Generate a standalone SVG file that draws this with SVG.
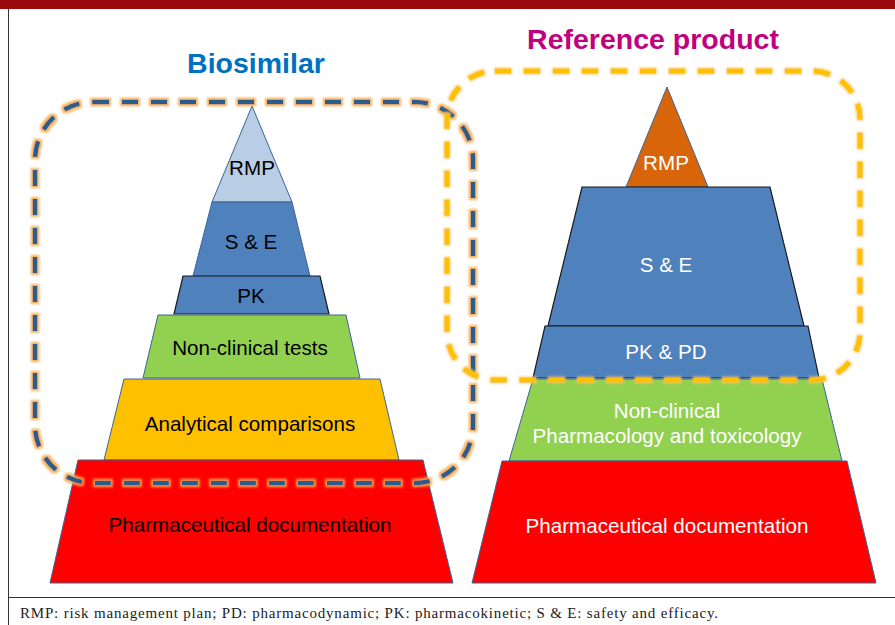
<svg xmlns="http://www.w3.org/2000/svg" width="895" height="625" viewBox="0 0 895 625">
  <defs>
    <style>
      .lbl { font-family: "Liberation Sans", Arial, sans-serif; font-size: 20.6px; text-anchor: middle; }
      .dark { fill: #000000; }
      .light { fill: #ffffff; }
      .edge { stroke: #3a6596; stroke-width: 1; }
      .edge-k { stroke: #1a1a1a; stroke-width: 1.2; }
      .title { font-family: "Liberation Sans", Arial, sans-serif; font-weight: bold; font-size: 28.5px; text-anchor: middle; }
      .box-blue { fill: none; stroke: #2c5c8c; stroke-width: 4.5; stroke-dasharray: 16 13; }
      .box-gold { fill: none; stroke: #ffc000; stroke-width: 5; stroke-dasharray: 16 13; }
    </style>
    <filter id="glowOrange" x="-10%" y="-10%" width="120%" height="120%">
      <feMorphology in="SourceAlpha" operator="dilate" radius="1.6" result="d"/>
      <feFlood flood-color="#f6a84a" flood-opacity="0.9"/>
      <feComposite in2="d" operator="in" result="c"/>
      <feGaussianBlur in="c" stdDeviation="1.3" result="g"/>
      <feMerge><feMergeNode in="g"/><feMergeNode in="SourceGraphic"/></feMerge>
    </filter>
    <filter id="glowGold" x="-10%" y="-10%" width="120%" height="120%">
      <feMorphology in="SourceAlpha" operator="dilate" radius="1.4" result="d"/>
      <feFlood flood-color="#f8c56a" flood-opacity="0.8"/>
      <feComposite in2="d" operator="in" result="c"/>
      <feGaussianBlur in="c" stdDeviation="1.3" result="g"/>
      <feMerge><feMergeNode in="g"/><feMergeNode in="SourceGraphic"/></feMerge>
    </filter>
  </defs>

  <!-- page frame -->
  <rect x="0" y="0" width="895" height="625" fill="#ffffff"/>
  <rect x="0" y="0" width="895" height="9" fill="#9b0a10"/>
  <line x1="8.5" y1="9" x2="8.5" y2="625" stroke="#333333" stroke-width="1"/>
  <line x1="8" y1="597.5" x2="895" y2="597.5" stroke="#333333" stroke-width="1"/>

  <!-- headings -->
  <text class="title" x="256" y="73" fill="#0070c0">Biosimilar</text>
  <text class="title" x="653" y="49" fill="#c0007f">Reference product</text>

  <!-- biosimilar pyramid -->
  <g id="bio-rmp">
    <polygon class="edge" points="252,106 292,202 212,202" fill="#b9cde5"/>
    <text class="lbl dark" x="252" y="175">RMP</text>
  </g>
  <g id="bio-se">
    <polygon class="edge" points="212,202 292,202 310,276 193,276" fill="#4f81bd"/>
    <text class="lbl dark" x="251" y="249">S &amp; E</text>
  </g>
  <g id="bio-pk">
    <polygon class="edge-k" points="183,276 320,276 329,314 174,314" fill="#4f81bd"/>
    <text class="lbl dark" x="251" y="303">PK</text>
  </g>
  <g id="bio-nonclinical">
    <polygon class="edge" points="158,315 346,315 360,378 143,378" fill="#92d050"/>
    <text class="lbl dark" x="250" y="355">Non-clinical tests</text>
  </g>
  <g id="bio-analytical">
    <polygon class="edge" points="124,379 380,379 399,460 104,460" fill="#ffc000"/>
    <text class="lbl dark" x="250" y="431">Analytical comparisons</text>
  </g>
  <g id="bio-pharma">
    <polygon class="edge" points="78,460 423,460 453,583 50,583" fill="#ff0000"/>
    <text class="lbl dark" x="250" y="532">Pharmaceutical documentation</text>
  </g>

  <!-- reference product pyramid -->
  <g id="ref-rmp">
    <polygon class="edge" points="667,87 708,187 626,187" fill="#d9650a"/>
    <text class="lbl light" x="666" y="170">RMP</text>
  </g>
  <g id="ref-se">
    <polygon class="edge-k" points="582,187 770,187 804,326 548,326" fill="#4f81bd"/>
    <text class="lbl light" x="666" y="272">S &amp; E</text>
  </g>
  <g id="ref-pkpd">
    <polygon class="edge-k" points="545,326 808,326 819,378 533,378" fill="#4f81bd"/>
    <text class="lbl light" x="666" y="359">PK &amp; PD</text>
  </g>
  <g id="ref-nonclinical">
    <polygon class="edge" points="533,379 822,379 842,461 509,461" fill="#92d050"/>
    <text class="lbl light" x="667" y="418">Non-clinical</text>
    <text class="lbl light" x="667" y="443">Pharmacology and toxicology</text>
  </g>
  <g id="ref-pharma">
    <polygon class="edge" points="502,461 847,461 876,583 472,583" fill="#ff0000"/>
    <text class="lbl light" x="667" y="533">Pharmaceutical documentation</text>
  </g>

  <!-- scope outlines -->
  <g id="outlines">
    <rect class="box-blue" x="35" y="102" width="438" height="381" rx="58" ry="58" filter="url(#glowOrange)"/>
    <rect class="box-gold" x="447" y="71" width="413" height="309" rx="48" ry="48" filter="url(#glowGold)"/>
  </g>

  <!-- caption -->
  <text x="20" y="618" font-family="'Liberation Serif', 'Times New Roman', serif" font-size="15" fill="#222222" textLength="698" lengthAdjust="spacing">RMP: risk management plan; PD: pharmacodynamic; PK: pharmacokinetic; S &amp; E: safety and efficacy.</text>
</svg>
